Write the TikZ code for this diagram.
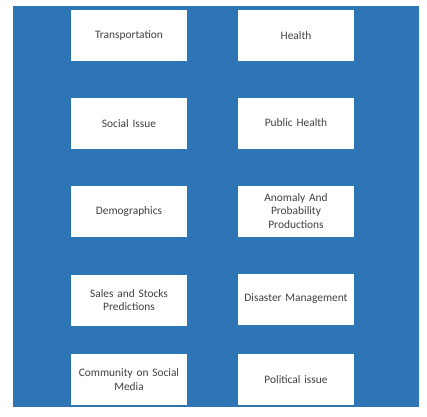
\documentclass[tikz,border=0pt]{standalone}
\usepackage{fontspec}
\setmainfont{Carlito}
\usepackage{tikz}
\usetikzlibrary{positioning}
\definecolor{panelblue}{RGB}{46,117,182}
\definecolor{labelgray}{RGB}{64,64,64}

\begin{document}
\begin{tikzpicture}[x=1pt,y=-1pt,
  topic/.style={fill=white,text=labelgray,minimum width=116pt,minimum height=51pt,
    inner sep=0pt,text width=112pt,align=center,
    font=\fontsize{11.4}{13.4}\selectfont}]
% Page and blue panel
\useasboundingbox (0,0) rectangle (427,416);
\fill[panelblue] (13,6) rectangle (419,407);
% Left column
\node[topic] (transport) at (129,35.5) {Transportation};
\node[topic] (social) at (129,123.5) {Social Issue};
\node[topic] (demo) at (129,211.5) {Demographics};
\node[topic] (sales) at (129,300) {Sales and Stocks\\Predictions};
\node[topic] (community) at (129,379.5) {Community on Social\\Media};
% Right column
\node[topic] (health) at (296,35.5) {Health};
\node[topic] (public) at (296,123) {Public Health};
\node[topic] (anomaly) at (296,211) {Anomaly And\\Probability\\Productions};
\node[topic] (disaster) at (296,299) {Disaster Management};
\node[topic] (political) at (296,379.5) {Political issue};
\end{tikzpicture}
\end{document}
